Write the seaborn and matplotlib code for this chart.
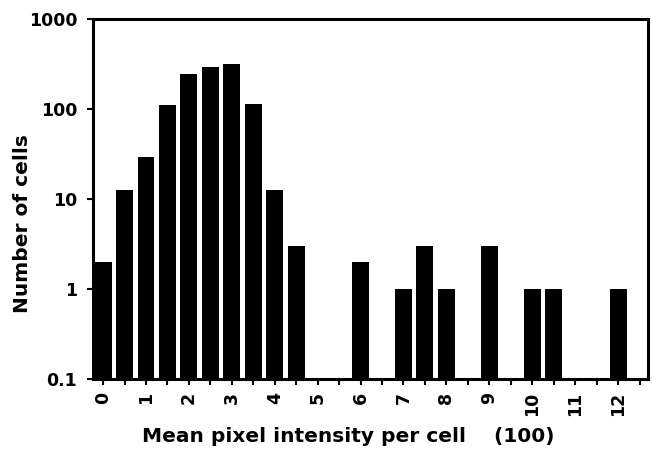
import matplotlib
matplotlib.use("Agg")
import matplotlib.pyplot as plt
import numpy as np
import pandas as pd
import seaborn as sns

# Histogram bins (units of 100) and cell counts per bin
bin_positions = [0, 0.5, 1, 1.5, 2, 2.5, 3, 3.5, 4, 4.5, 5, 5.5, 6, 6.5,
                 7, 7.5, 8, 8.5, 9, 9.5, 10, 10.5, 11, 11.5, 12]
cell_counts = [2, 12.5, 29, 110, 245, 295, 315, 112, 12.5, 3, 0, 0, 2, 0,
               1, 3, 1, 0, 3, 0, 1, 1, 0, 0, 1]
x_tick_labels = [str(i) for i in range(13)]
y_ticks = [0.1, 1, 10, 100, 1000]
y_tick_labels = ["0.1", "1", "10", "100", "1000"]

sns.set_theme(style="ticks")
plt.rcParams["font.family"] = ["DejaVu Sans"]
plt.rcParams["font.weight"] = "bold"
for key in ["text.color", "axes.labelcolor", "xtick.color", "ytick.color",
            "xtick.labelcolor", "ytick.labelcolor"]:
    plt.rcParams[key] = "black"

df = pd.DataFrame({"pos": bin_positions, "count": cell_counts})
df_pos = df[df["count"] > 0]  # empty bins have no bar on a log axis

fig = plt.figure(figsize=(6.52, 4.49), dpi=100)
ax = fig.add_axes([0.143, 0.156, 0.851, 0.802])
ax.set_yscale("log")
sns.barplot(data=df_pos, x="pos", y="count", native_scale=True,
            color="black", saturation=1, width=0.79, ax=ax,
            edgecolor="none", linewidth=0, errorbar=None)

ax.set_xlim(-0.23, 12.7)
ax.set_ylim(0.1, 1000)

ax.set_xticks(np.arange(0, 13, 1))
ax.set_xticklabels(x_tick_labels, rotation=90, fontsize=12.5,
                   fontweight="bold", color="black")
ax.set_xticks(np.arange(0.5, 12.6, 1), minor=True)
ax.set_yticks(y_ticks)
ax.set_yticklabels(y_tick_labels, fontsize=12.5, fontweight="bold",
                   color="black")
ax.yaxis.set_minor_locator(matplotlib.ticker.NullLocator())

ax.tick_params(axis="x", which="both", direction="out", length=4.5, width=1.5,
               color="black", pad=5)
ax.tick_params(axis="y", which="major", direction="out", length=4.5, width=1.5,
               color="black", pad=7)

for side in ["left", "right", "top", "bottom"]:
    ax.spines[side].set_visible(True)
    ax.spines[side].set_linewidth(2.2)
    ax.spines[side].set_color("black")

ax.set_xlabel("")
ax.set_ylabel("")
fig.text(0.218, 0.016, "Mean pixel intensity per cell    (100)", ha="left",
         va="baseline", fontsize=14.5, fontweight="bold", color="black")
fig.text(0.034, 0.501, "Number of cells", ha="center", va="center",
         rotation=90, fontsize=14.5, fontweight="bold", color="black")

fig.savefig("out.png", dpi=100)
